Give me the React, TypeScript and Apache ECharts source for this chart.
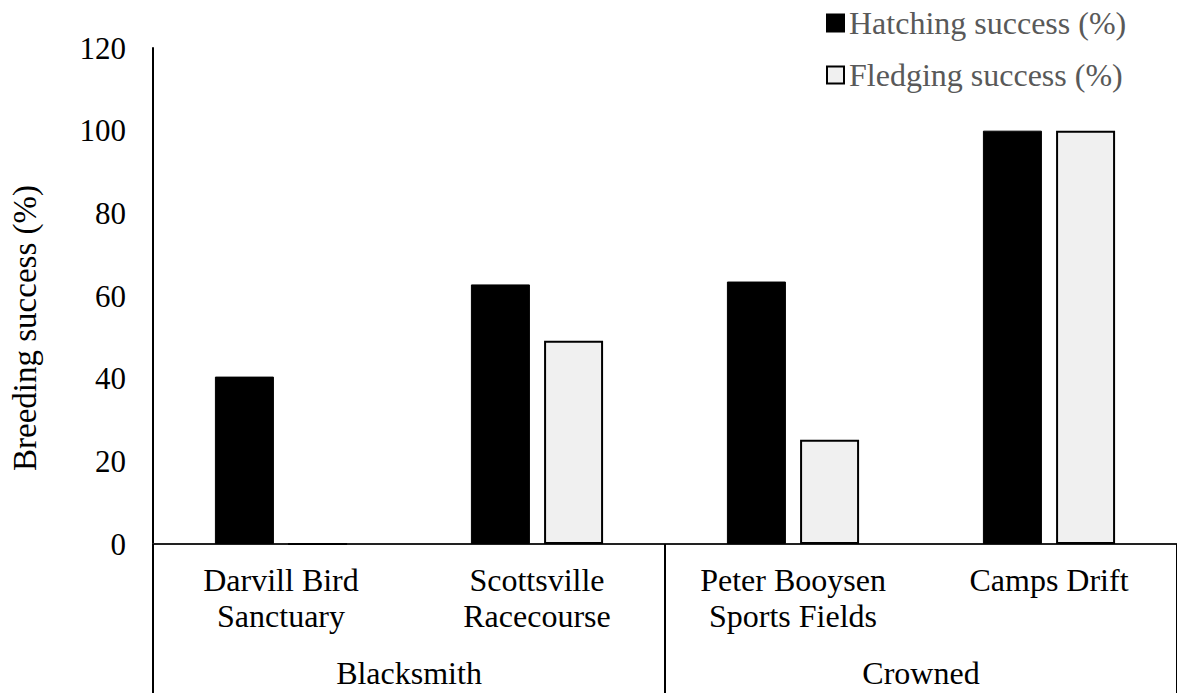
import React, { useEffect, useRef } from "react";
import * as echarts from "echarts";

const sites = ["Darvill Bird\nSanctuary", "Scottsville\nRacecourse", "Peter Booysen\nSports Fields", "Camps Drift"];
const groups = ["Blacksmith", "Crowned"];
const hatching = [40.5, 62.8, 63.5, 100];
const fledging = [0, 49.2, 25.2, 100];
const seriesNames = ["Hatching success (%)", "Fledging success (%)"];
const yTitle = "Breeding success (%)";

const FONT = "'Liberation Serif', 'Times New Roman', serif";

export default function App() {
  const ref = useRef<HTMLDivElement>(null);
  useEffect(() => {
    if (!ref.current) return;
    const chart = echarts.init(ref.current, undefined, { renderer: "svg" });
    chart.setOption({
      animation: false,
      backgroundColor: "#ffffff",
      textStyle: { fontFamily: FONT },
      legend: {
        orient: "vertical",
        left: 826,
        top: 7,
        padding: 0,
        itemWidth: 17,
        itemHeight: 17,
        itemGap: 20,
        icon: "rect",
        data: seriesNames,
        textStyle: { fontFamily: FONT, fontSize: 32, color: "#595959" },
      },
      grid: { left: 153, right: -3, top: 48, bottom: 149, containLabel: false },
      xAxis: [
        {
          type: "category",
          data: sites,
          position: "bottom",
          axisLine: { show: true, lineStyle: { color: "#222", width: 2 } },
          axisTick: { show: false },
          axisLabel: {
            fontFamily: FONT,
            fontSize: 32,
            color: "#000",
            margin: 18,
            lineHeight: 36,
            interval: 0,
          },
          splitLine: { show: false },
        },
        {
          type: "category",
          data: groups,
          position: "bottom",
          offset: 0,
          axisLine: { show: false },
          axisTick: { show: true, length: 150, lineStyle: { color: "#000", width: 2 } },
          axisLabel: {
            fontFamily: FONT,
            fontSize: 32,
            color: "#000",
            margin: 111,
            lineHeight: 36,
            interval: 0,
          },
          splitLine: { show: false },
        },
      ],
      yAxis: {
        type: "value",
        min: 0,
        max: 120,
        interval: 20,
        name: yTitle,
        nameLocation: "middle",
        nameGap: 112,
        nameTextStyle: { fontFamily: FONT, fontSize: 33, color: "#000", padding: [0, 64, 0, 0] },
        axisLine: { show: true, lineStyle: { color: "#000", width: 2 } },
        axisTick: { show: false },
        splitLine: { show: false },
        axisLabel: { fontFamily: FONT, fontSize: 31, color: "#000", margin: 27 },
      },
      series: [
        {
          name: seriesNames[0],
          type: "bar",
          xAxisIndex: 0,
          data: hatching,
          barWidth: 59,
          barGap: "24%",
          itemStyle: { color: "#000000", borderColor: "#000000", borderWidth: 1 },
        },
        {
          name: seriesNames[1],
          type: "bar",
          xAxisIndex: 0,
          data: fledging,
          barWidth: 59,
          barGap: "24%",
          itemStyle: { color: "#f0f0f0", borderColor: "#000000", borderWidth: 2 },
        },
      ],
    });
    return () => chart.dispose();
  }, []);
  return (
    <div
      ref={ref}
      style={{ position: "fixed", left: 0, top: 0, width: 1177, height: 693, background: "#fff" }}
    />
  );
}
